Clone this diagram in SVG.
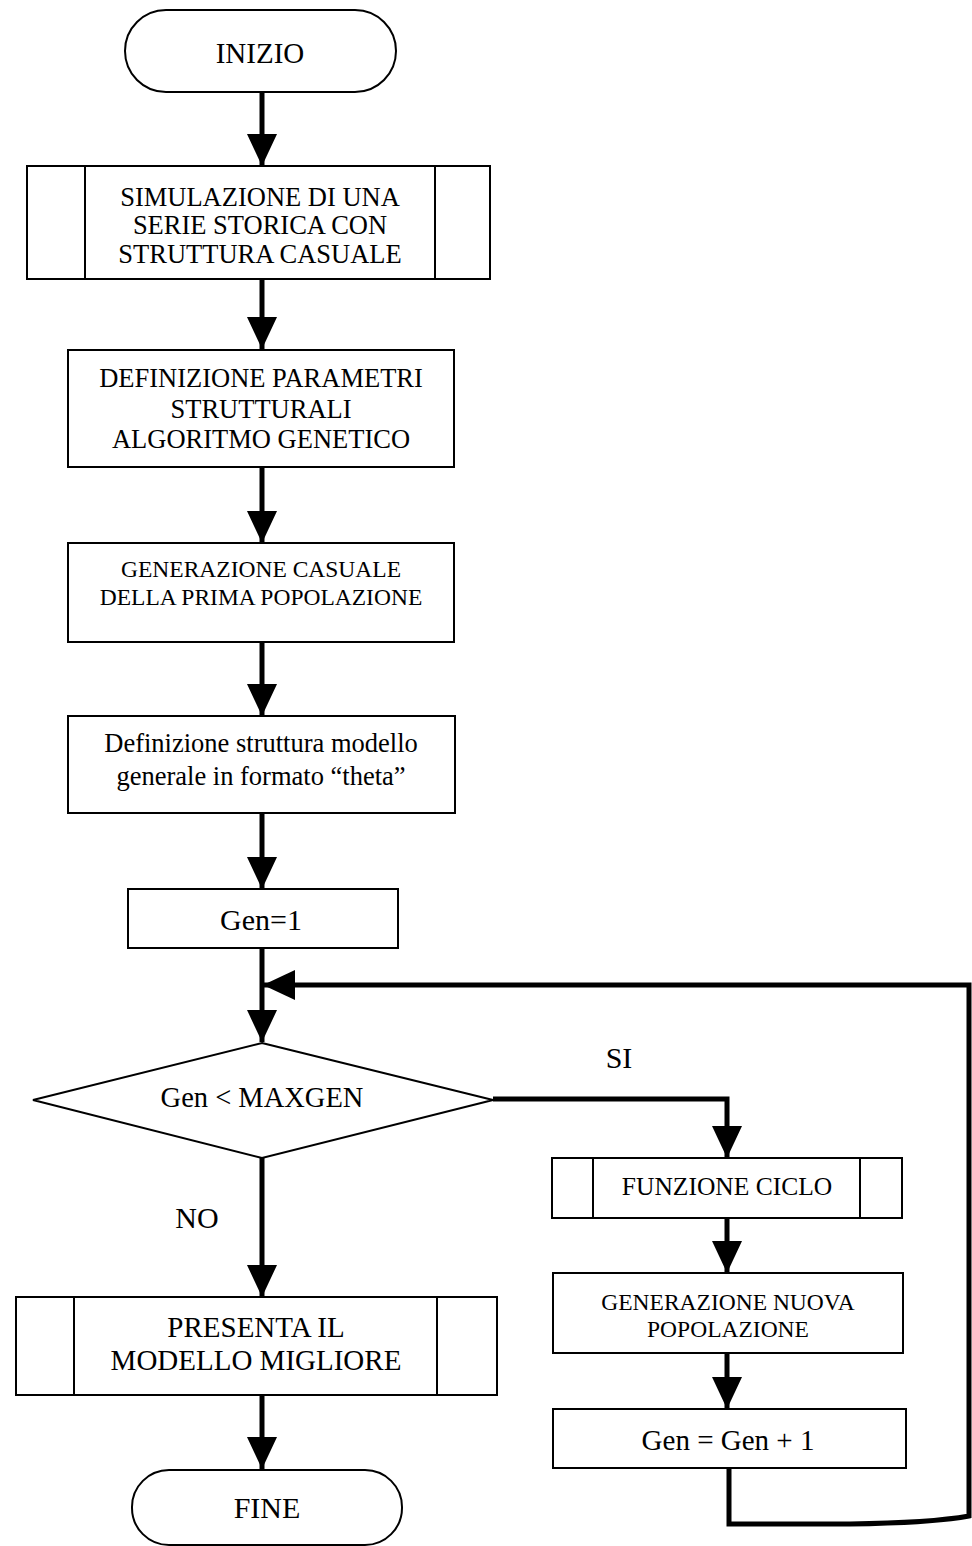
<svg xmlns="http://www.w3.org/2000/svg" width="972" height="1546" viewBox="0 0 972 1546">
  <defs>
    <marker id="arrow" markerUnits="userSpaceOnUse" markerWidth="34" markerHeight="32" refX="32" refY="15" orient="auto">
      <path d="M0,0 L32,15 L0,30 Z" fill="#000"/>
    </marker>
    <style>
      .box { fill: #fff; stroke: #000; stroke-width: 2; }
      .sep { fill: none; stroke: #000; stroke-width: 2; }
      .conn { fill: none; stroke: #000; stroke-width: 5; }
      .lbl { font-family: "Liberation Serif", "Times New Roman", serif; fill: #000; text-anchor: middle; }
    </style>
  </defs>
  <rect width="972" height="1546" fill="#fff"/>

  <!-- connectors -->
  <g id="connectors">
    <line class="conn" x1="262" y1="92" x2="262" y2="166" marker-end="url(#arrow)"/>
    <line class="conn" x1="262" y1="280" x2="262" y2="349" marker-end="url(#arrow)"/>
    <line class="conn" x1="262" y1="467" x2="262" y2="543" marker-end="url(#arrow)"/>
    <line class="conn" x1="262" y1="642" x2="262" y2="716" marker-end="url(#arrow)"/>
    <line class="conn" x1="262" y1="813" x2="262" y2="889" marker-end="url(#arrow)"/>
    <line class="conn" x1="262" y1="948" x2="262" y2="1042" marker-end="url(#arrow)"/>
    <path class="conn" d="M493,1099 H727 V1158" marker-end="url(#arrow)"/>
    <line class="conn" x1="727" y1="1218" x2="727" y2="1273" marker-end="url(#arrow)"/>
    <line class="conn" x1="727" y1="1353" x2="727" y2="1409" marker-end="url(#arrow)"/>
    <path class="conn" d="M729,1468 V1524 H850 Q930,1523 969,1516 V985 H263" marker-end="url(#arrow)"/>
    <line class="conn" x1="262" y1="1158" x2="262" y2="1297" marker-end="url(#arrow)"/>
    <line class="conn" x1="262" y1="1395" x2="262" y2="1469" marker-end="url(#arrow)"/>
  </g>

  <!-- start -->
  <g id="start">
    <rect class="box" x="125" y="10" width="271" height="82" rx="41" ry="41"/>
    <text class="lbl" x="260" y="63" font-size="29">INIZIO</text>
  </g>

  <!-- time series simulation (predefined process) -->
  <g id="simulate">
    <rect class="box" x="27" y="166" width="463" height="113"/>
    <line class="sep" x1="85" y1="166" x2="85" y2="279"/>
    <line class="sep" x1="435" y1="166" x2="435" y2="279"/>
    <text class="lbl" x="260" y="206" font-size="26.5">SIMULAZIONE DI UNA</text>
    <text class="lbl" x="260" y="234" font-size="26.5">SERIE STORICA CON</text>
    <text class="lbl" x="260" y="263" font-size="26.5">STRUTTURA CASUALE</text>
  </g>

  <!-- structural parameters -->
  <g id="params">
    <rect class="box" x="68" y="350" width="386" height="117"/>
    <text class="lbl" x="261" y="387" font-size="26.5">DEFINIZIONE PARAMETRI</text>
    <text class="lbl" x="261" y="418" font-size="26.5">STRUTTURALI</text>
    <text class="lbl" x="261" y="448" font-size="26.5">ALGORITMO GENETICO</text>
  </g>

  <!-- first population -->
  <g id="firstpop">
    <rect class="box" x="68" y="543" width="386" height="99"/>
    <text class="lbl" x="261" y="577" font-size="23.5">GENERAZIONE CASUALE</text>
    <text class="lbl" x="261" y="605" font-size="23.5">DELLA PRIMA POPOLAZIONE</text>
  </g>

  <!-- model structure -->
  <g id="model">
    <rect class="box" x="68" y="716" width="387" height="97"/>
    <text class="lbl" x="261" y="752" font-size="26.5">Definizione struttura modello</text>
    <text class="lbl" x="261" y="785" font-size="26.5">generale in formato “theta”</text>
  </g>

  <!-- init counter -->
  <g id="gen1">
    <rect class="box" x="128" y="889" width="270" height="59"/>
    <text class="lbl" x="261" y="930" font-size="30">Gen=1</text>
  </g>

  <!-- decision -->
  <g id="decision">
    <polygon class="box" points="262,1043 493,1100 262,1158 33,1100"/>
    <text class="lbl" x="262" y="1107" font-size="28.5">Gen &lt; MAXGEN</text>
  </g>

  <g id="label-si">
    <text class="lbl" x="619" y="1068" font-size="30">SI</text>
  </g>
  <g id="label-no">
    <text class="lbl" x="197" y="1228" font-size="30">NO</text>
  </g>

  <!-- cycle function (predefined process) -->
  <g id="cycle">
    <rect class="box" x="552" y="1158" width="350" height="60"/>
    <line class="sep" x1="593" y1="1158" x2="593" y2="1218"/>
    <line class="sep" x1="860" y1="1158" x2="860" y2="1218"/>
    <text class="lbl" x="727" y="1195" font-size="25.5">FUNZIONE CICLO</text>
  </g>

  <!-- new population -->
  <g id="newpop">
    <rect class="box" x="553" y="1273" width="350" height="80"/>
    <text class="lbl" x="728" y="1310" font-size="23.5">GENERAZIONE NUOVA</text>
    <text class="lbl" x="728" y="1337" font-size="23.5">POPOLAZIONE</text>
  </g>

  <!-- increment counter -->
  <g id="increment">
    <rect class="box" x="553" y="1409" width="353" height="59"/>
    <text class="lbl" x="728" y="1450" font-size="29">Gen = Gen + 1</text>
  </g>

  <!-- best model (predefined process) -->
  <g id="best">
    <rect class="box" x="16" y="1297" width="481" height="98"/>
    <line class="sep" x1="74" y1="1297" x2="74" y2="1395"/>
    <line class="sep" x1="437" y1="1297" x2="437" y2="1395"/>
    <text class="lbl" x="256" y="1337" font-size="29">PRESENTA IL</text>
    <text class="lbl" x="256" y="1370" font-size="29">MODELLO MIGLIORE</text>
  </g>

  <!-- end -->
  <g id="end">
    <rect class="box" x="132" y="1470" width="270" height="75" rx="37" ry="37"/>
    <text class="lbl" x="267" y="1518" font-size="30">FINE</text>
  </g>
</svg>
